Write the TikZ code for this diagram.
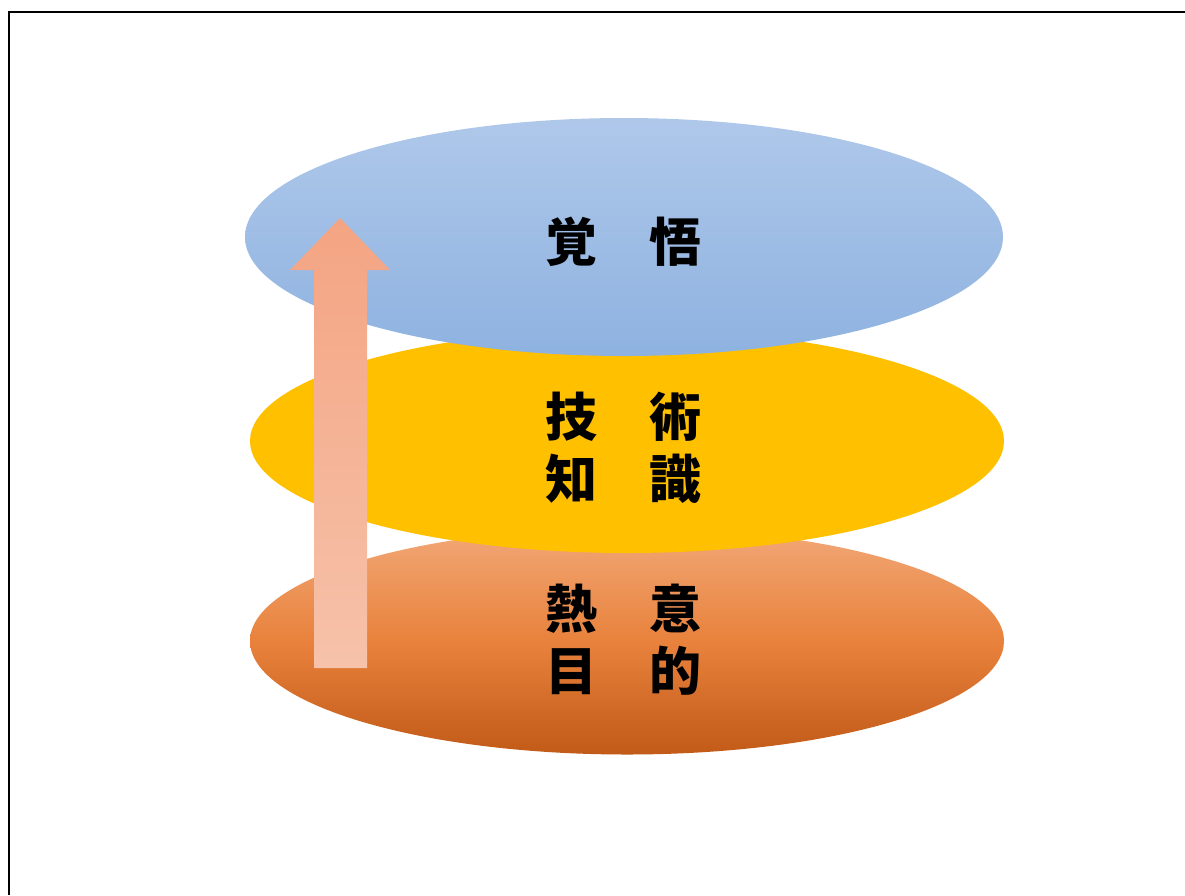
\documentclass[tikz,border=0pt]{standalone}
\usepackage{fontspec}
\newfontfamily\cjk{Noto Sans CJK JP}
\usetikzlibrary{shapes.geometric}
\definecolor{blueT}{HTML}{AFC8EA}
\definecolor{blueB}{HTML}{8EB2E0}
\definecolor{gold}{HTML}{FFC000}
\definecolor{orT}{HTML}{F2A878}
\definecolor{orM}{HTML}{E8823C}
\definecolor{orB}{HTML}{C25A18}
\definecolor{arT}{HTML}{F4A482}
\definecolor{arB}{HTML}{F6C2AA}
\tikzset{
  layer/.style={ellipse, draw=none, inner sep=0pt},
  label/.style={font=\cjk\bfseries\fontsize{52pt}{62pt}\selectfont, align=center, text=black, inner sep=0pt},
  frame/.style={line width=2pt, black}
}
\begin{document}
\begin{tikzpicture}[x=1pt,y=-1pt]
\useasboundingbox (0,0) rectangle (1185,895);
\draw[frame] (1185,12) -- (9,12) -- (9,895);
\node[layer, minimum width=754pt, minimum height=227pt, top color=orT, bottom color=orB, middle color=orM] (heat) at (627,641) {};
\node[layer, minimum width=754pt, minimum height=224pt, fill=gold] (skill) at (627,441) {};
\node[layer, minimum width=758pt, minimum height=238pt, top color=blueT, bottom color=blueB] (resolve) at (624,237) {};
\node[label] (t1) at (623,242) {覚　悟};
\node[label] (t2) at (623,448) {技　術\\知　識};
\node[label] (t3) at (623,640) {熱　意\\目　的};
\shade[top color=arT, bottom color=arB]
  (340,218) -- (390,270) -- (367,270) -- (367,668) -- (314,668) -- (314,270) -- (290,270) -- cycle;
\end{tikzpicture}
\end{document}
